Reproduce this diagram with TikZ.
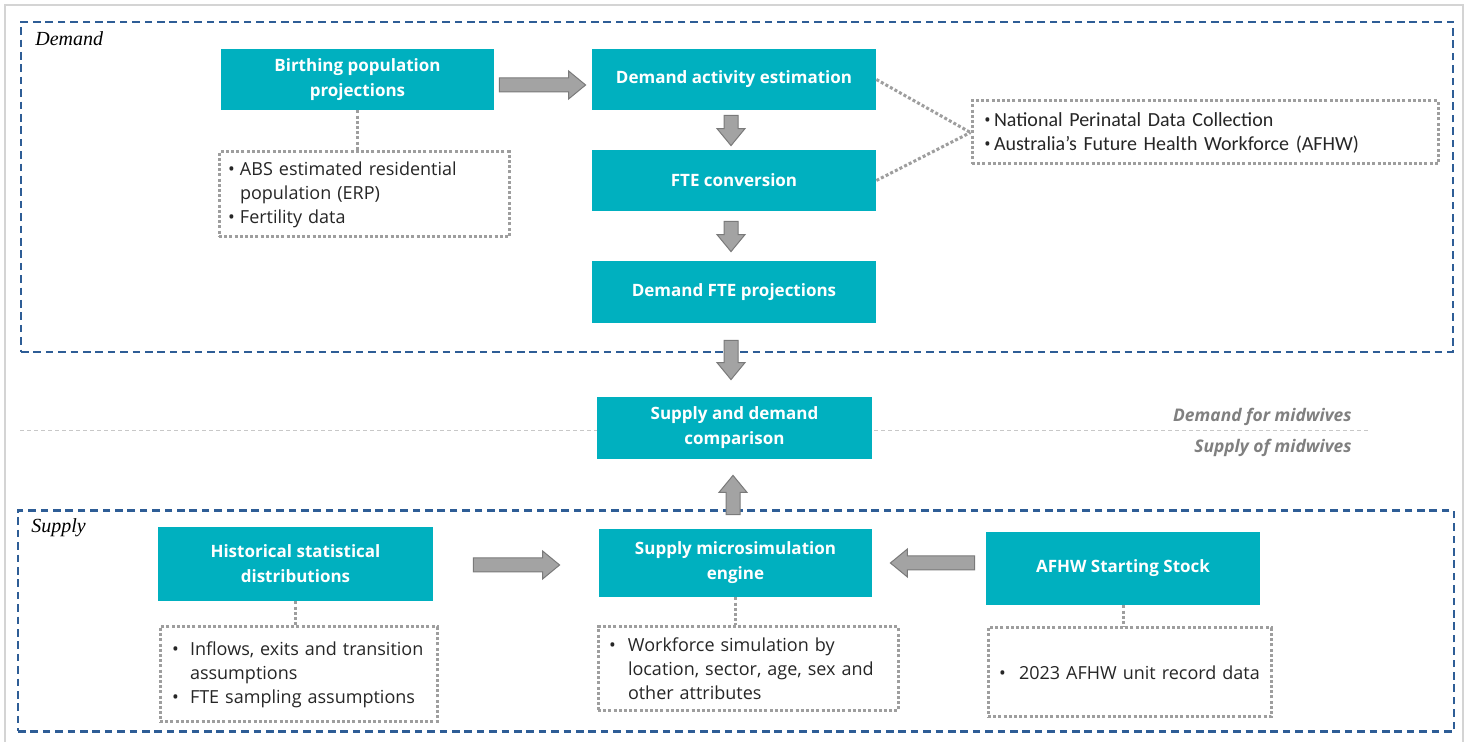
\documentclass[tikz,border=0pt]{standalone}
\usepackage{fontspec}
\setmainfont{Open Sans}
\newfontfamily\calib{Carlito}
\newfontfamily\serifit{Liberation Serif}
\usetikzlibrary{calc}
\definecolor{teal0}{HTML}{00B0BF}
\definecolor{dashblue}{HTML}{2E5D96}
\definecolor{dotgray}{HTML}{9E9E9E}
\definecolor{arrfill}{HTML}{A3A3A3}
\definecolor{arrline}{HTML}{7A7A7A}
\definecolor{txt}{HTML}{262626}
\definecolor{lbl}{HTML}{808080}
\definecolor{framegray}{HTML}{D4D4D4}
\definecolor{midgray}{HTML}{C8C8C8}

\newcommand\bul[2][6pt]{\makebox[#1][l]{\rmfamily\fontsize{9}{12}\selectfont •}#2}
\newcommand\ind[2][6pt]{\hspace*{#1}#2}

\newcommand\barrow[2]{%
  \coordinate (ba-h) at ($(#2)!8.5pt!(#1)$);
  \draw[blockarr] ($(#1)!3.5pt!90:(#2)$) -- ($(ba-h)!3.5pt!90:(#2)$) -- ($(ba-h)!7pt!90:(#2)$) -- (#2)
     -- ($(ba-h)!7pt!-90:(#2)$) -- ($(ba-h)!3.5pt!-90:(#2)$) -- ($(#1)!3.5pt!-90:(#2)$) -- cycle;}

\begin{document}
\begin{tikzpicture}[x=0.5pt,y=-0.5pt,
  tbox/.style={fill=teal0, text=white, font=\fontsize{8.5}{12.5}\selectfont\bfseries, align=center, inner sep=0pt},
  sz/.style 2 args={minimum width=#1*0.5pt, minimum height=#2*0.5pt},
  dbox/.style={draw=dotgray, line width=1.5pt, dash pattern=on 1.5pt off 1.1pt, font=\fontsize{9}{12}\selectfont, text=txt, align=left, inner ysep=0pt},
  dline/.style={draw=dotgray, line width=1.5pt, dash pattern=on 1.5pt off 1.1pt},
  blockarr/.style={fill=arrfill, draw=arrline, line width=0.5pt, line join=miter},
  dashbox/.style={draw=dashblue, line width=1.3pt, dash pattern=on 3.8pt off 2.4pt, inner sep=0pt},
  seclbl/.style={font=\serifit\itshape\fontsize{10}{11}\selectfont, text=black, inner sep=0pt},
  midlbl/.style={font=\fontsize{8.7}{10}\selectfont\bfseries\itshape, text=lbl, inner sep=0pt},
  midline/.style={draw=midgray, line width=0.5pt, dash pattern=on 2pt off 1.5pt}
]
\useasboundingbox (0,0) rectangle (1469,742);
\fill[white] (0,0) rectangle (1469,742);
\draw[framegray, line width=0.6pt] (5,5) rectangle (1463,760);

% group boxes
\node[dashbox, sz={1432}{330}] (demandgrp) at (737,187) {};
\node[dashbox, sz={1436}{221}] (supplygrp) at (736,621) {};
\node[seclbl, anchor=base west] (dlab) at (35,46) {Demand};
\node[seclbl, anchor=base west] (slab) at (31,533) {Supply};

% separator line
\coordinate (ml) at (20,431);
\coordinate (mr) at (1370,431);
\draw[midline] (ml) -- (mr);
\node[midlbl, anchor=base east] (dfm) at (1352,422) {Demand for midwives};
\node[midlbl, anchor=base east] (som) at (1352,453) {Supply of midwives};

% main boxes
\node[tbox, sz={273}{61}] (bpp) at (357.5,79.5) {Birthing population\\projections};
\node[tbox, sz={284}{61}] (dae) at (734,79.5) {Demand activity estimation};
\node[tbox, sz={284}{61}] (fte) at (734,180.5) {FTE conversion};
\node[tbox, sz={284}{62}] (dfp) at (734,292) {Demand FTE projections};
\node[tbox, sz={275}{62}] (sdc) at (734.5,428) {Supply and demand\\comparison};
\node[tbox, sz={275}{74}] (hsd) at (295.5,564) {Historical statistical\\distributions};
\node[tbox, sz={273}{68}] (sme) at (735.5,563) {Supply microsimulation\\engine};
\node[tbox, sz={274}{73}] (afhw) at (1123,568.5) {AFHW Starting Stock};

% dotted source boxes
\node[dbox, sz={290}{85}, inner xsep=4.5pt, text width=136pt] (abs) at (364,194.5)
  {\bul{ABS estimated residential}\\\ind{population (ERP)}\\\bul{Fertility data}};
\node[dbox, sz={466}{63}, inner xsep=6pt, text width=221pt, font=\calib\fontsize{10}{12}\selectfont] (npd) at (1205,132.5)
  {\bul[5pt]{National Perinatal Data Collection}\\\bul[5pt]{Australia’s Future Health Workforce (AFHW)}};
\node[dbox, sz={277}{95}, inner xsep=6pt, text width=126.5pt] (inf) at (298.5,674.5)
  {\bul[9pt]{Inflows, exits and transition}\\\ind[9pt]{assumptions}\\\bul[9pt]{FTE sampling assumptions}};
\node[dbox, sz={300}{84}, inner xsep=5.5pt, text width=139pt] (wfs) at (748,669)
  {\bul[9.5pt]{Workforce simulation by}\\\ind[9.5pt]{location, sector, age, sex and}\\\ind[9.5pt]{other attributes}};
\node[dbox, sz={283}{89}, inner xsep=5.5pt, text width=130.5pt] (afd) at (1129.5,672.5)
  {\bul[10pt]{2023 AFHW unit record data}};

% dotted connectors
\draw[dline] (bpp.south) -- (bpp.south |- abs.north);
\draw[dline] (dae.east) -- (npd.west);
\draw[dline] (fte.east) -- (npd.west);
\draw[dline] (hsd.south) -- (hsd.south |- inf.north);
\draw[dline] (sme.south) -- (sme.south |- wfs.north);
\draw[dline] (afhw.south) -- (afhw.south |- afd.north);

% block arrows
\coordinate (a1s) at ($(bpp.east)+(5,5.5)$);  \coordinate (a1e) at ($(dae.west)+(-6,5.5)$);
\barrow{a1s}{a1e}
\coordinate (a2s) at ($(dae.south)+(-3,5)$);  \coordinate (a2e) at ($(fte.north)+(-3,-4)$);
\barrow{a2s}{a2e}
\coordinate (a3s) at ($(fte.south)+(-3,10)$); \coordinate (a3e) at ($(dfp.north)+(-3,-9)$);
\barrow{a3s}{a3e}
\coordinate (a4s) at ($(dfp.south)+(-3,17)$); \coordinate (a4e) at ($(sdc.north)+(-3.5,-17)$);
\barrow{a4s}{a4e}
\coordinate (a5s) at ($(sme.north)+(-2.5,-14)$); \coordinate (a5e) at ($(sdc.south)+(-1.5,16)$);
\barrow{a5s}{a5e}
\coordinate (a6s) at ($(hsd.east)+(40,1)$);   \coordinate (a6e) at ($(sme.west)+(-39,2)$);
\barrow{a6s}{a6e}
\coordinate (a7s) at ($(afhw.west)+(-11,-5.5)$); \coordinate (a7e) at ($(sme.east)+(18,0)$);
\barrow{a7s}{a7e}
\end{tikzpicture}
\end{document}
